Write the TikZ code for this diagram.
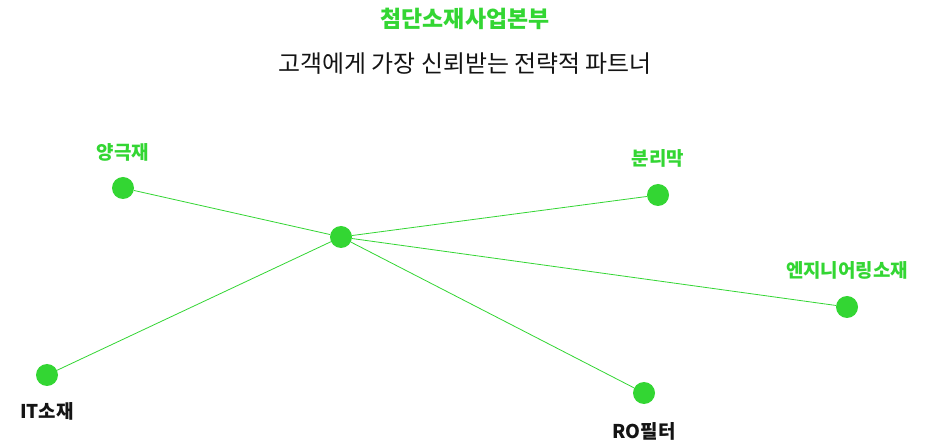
\documentclass[tikz,border=0pt]{standalone}
\usepackage{fontspec}
\setmainfont{Noto Sans CJK KR}
\definecolor{grn}{RGB}{51,214,51}
\definecolor{txt}{RGB}{20,20,20}
\begin{document}
\begin{tikzpicture}[x=1bp,y=-1bp,
  dot/.style={circle,fill=grn,inner sep=0pt,minimum size=22bp},
  link/.style={draw=grn,line width=0.8bp},
  glabel/.style={text=grn,font=\fontsize{19}{22}\selectfont\bfseries,inner sep=0pt},
  blabel/.style={text=txt,font=\fontsize{19}{22}\selectfont\bfseries,inner sep=0pt}]
\path[use as bounding box,fill=white] (0,0) rectangle (928,442);
\node[text=grn,font=\fontsize{23}{26}\selectfont\bfseries,inner sep=0pt] (title) at (465,19) {첨단소재사업본부};
\node[text=txt,font=\fontsize{24}{27}\selectfont,inner sep=0pt] (sub) at (465,64) {고객에게 가장 신뢰받는 전략적 파트너};
\node[dot] (c) at (341,237) {};
\node[dot] (a) at (123,188) {};
\node[dot] (b) at (658,195) {};
\node[dot] (e) at (847,307) {};
\node[dot] (it) at (47,375) {};
\node[dot] (ro) at (644,393) {};
\draw[link] (c) -- (a);
\draw[link] (c) -- (b);
\draw[link] (c) -- (e);
\draw[link] (c) -- (it);
\draw[link] (c) -- (ro);
\node[glabel] (la) at (123,152) {양극재};
\node[glabel] (lb) at (658,158) {분리막};
\node[glabel] (le) at (847,270) {엔지니어링소재};
\node[blabel] (lit) at (47,411) {IT소재};
\node[blabel] (lro) at (644,431) {RO필터};
\end{tikzpicture}
\end{document}
